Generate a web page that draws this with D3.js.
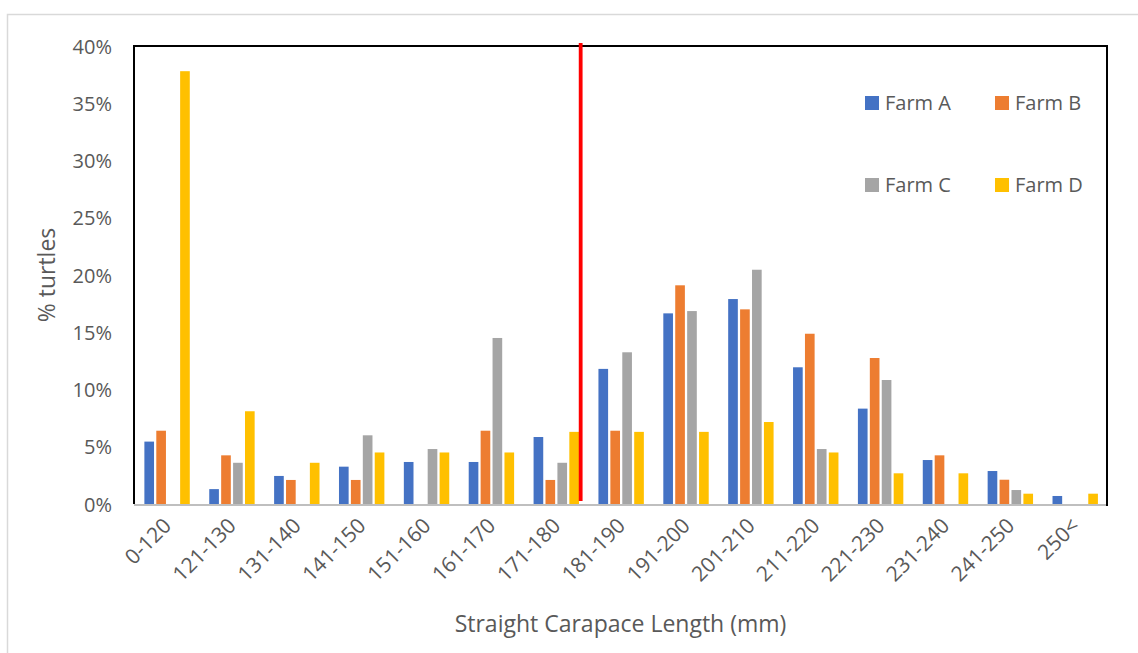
<!DOCTYPE html>
<html><head><meta charset="utf-8">
<script src="https://cdn.jsdelivr.net/npm/d3@7"></script>
<style>html,body{margin:0;padding:0;background:#fff;} svg{display:block;font-family:"Open Sans",sans-serif;}</style>
</head><body>
<svg id="chart" width="1138" height="653"></svg>
<script>
const categories = ["0-120","121-130","131-140","141-150","151-160","161-170","171-180","181-190","191-200","201-210","211-220","221-230","231-240","241-250","250<"];
const seriesNames = ["Farm A","Farm B","Farm C","Farm D"];
const farmA = [5.45, 1.3, 2.45, 3.26, 3.67, 3.67, 5.85, 11.8, 16.65, 17.9, 11.94, 8.33, 3.84, 2.88, 0.7];
const farmB = [6.4, 4.25, 2.1, 2.1, 0, 6.4, 2.1, 6.4, 19.1, 17.0, 14.87, 12.75, 4.25, 2.12, 0];
const farmC = [0, 3.6, 0, 6.0, 4.8, 14.5, 3.6, 13.25, 16.85, 20.46, 4.8, 10.83, 0, 1.22, 0];
const farmD = [37.8, 8.1, 3.6, 4.5, 4.5, 4.5, 6.3, 6.3, 6.3, 7.16, 4.5, 2.68, 2.68, 0.9, 0.9];
const colors = ["#4472C4","#ED7D31","#A5A5A5","#FFC000"];
const yTicks = [0,5,10,15,20,25,30,35,40];
const markerAfter = "171-180";

const seriesValues = [farmA, farmB, farmC, farmD];
const svg = d3.select("#chart");
const M = {left:134, right:1107, top:46, bottom:504};

// outer frame
svg.append("rect").attr("x",7.5).attr("y",14.5).attr("width",1140).attr("height",650)
  .attr("fill","none").attr("stroke","#d9d9d9").attr("stroke-width",1.5);

const x = d3.scaleBand().domain(categories).range([M.left, M.right]).paddingInner(0).paddingOuter(0);
const bw = x.bandwidth();
const xs = d3.scaleBand().domain(seriesNames).range([bw*0.16, bw*0.86]).paddingInner(0.19);
const y = d3.scaleLinear().domain([0,40]).range([M.bottom, M.top]);

// bars
seriesNames.forEach((s,i)=>{
  svg.append("g").selectAll("rect").data(categories.map((c,j)=>({c, v:seriesValues[i][j]})))
    .join("rect")
    .attr("x", d=> x(d.c)+xs(s))
    .attr("y", d=> y(d.v))
    .attr("width", xs.bandwidth())
    .attr("height", d=> y(0)-y(d.v))
    .attr("fill", colors[i]);
});

// y axis labels
const yAxis = d3.axisLeft(y).tickValues(yTicks).tickFormat(d=>d+"%").tickSize(0).tickPadding(22);
const gy = svg.append("g").attr("transform",`translate(${M.left},0)`).call(yAxis);
gy.select(".domain").remove();
gy.selectAll("text").attr("fill","#595959").attr("font-size","20px").attr("font-family","'Open Sans',sans-serif").attr("dy","0.35em");

// x axis
const xAxis = d3.axisBottom(x).tickSize(0).tickPadding(0);
const gx = svg.append("g").attr("transform",`translate(0,${M.bottom})`).call(xAxis);
gx.select(".domain").remove();
gx.selectAll("text").attr("fill","#595959").attr("font-size","21px").attr("font-family","'Open Sans',sans-serif")
  .attr("text-anchor","end").attr("dy",null).attr("y",0)
  .attr("transform","translate(6,23) rotate(-45)");

// plot borders
svg.append("line").attr("x1",M.left).attr("x2",M.right).attr("y1",M.bottom+1).attr("y2",M.bottom+1)
  .attr("stroke","#bfbfbf").attr("stroke-width",2);
svg.append("path").attr("d",`M${M.left},${M.bottom}V${M.top}H${M.right}V${M.bottom+2}`)
  .attr("fill","none").attr("stroke","#000").attr("stroke-width",2);

// red marker line
const rx = x(markerAfter) + bw*0.886;
svg.append("line").attr("x1",rx).attr("x2",rx).attr("y1",y(40)-3).attr("y2",y(0)-3)
  .attr("stroke","#FF0000").attr("stroke-width",3.8);

// titles
svg.append("text").attr("x",(M.left+M.right)/2).attr("y",632).attr("text-anchor","middle")
  .attr("fill","#595959").attr("font-size","23px").text("Straight Carapace Length (mm)");
svg.append("text").attr("transform",`translate(55,${(M.top+M.bottom)/2}) rotate(-90)`).attr("text-anchor","middle")
  .attr("fill","#595959").attr("font-size","23px").text("% turtles");

// legend
const legPos = [[865,103],[995,103],[865,185],[995,185]];
seriesNames.forEach((s,i)=>{
  const g = svg.append("g").attr("transform",`translate(${legPos[i][0]},${legPos[i][1]})`);
  g.append("rect").attr("x",0).attr("y",-7).attr("width",14).attr("height",14).attr("fill",colors[i]);
  g.append("text").attr("x",20).attr("y",0).attr("dy","0.35em").attr("fill","#595959").attr("font-size","20px").text(s);
});
</script>
</body></html>
